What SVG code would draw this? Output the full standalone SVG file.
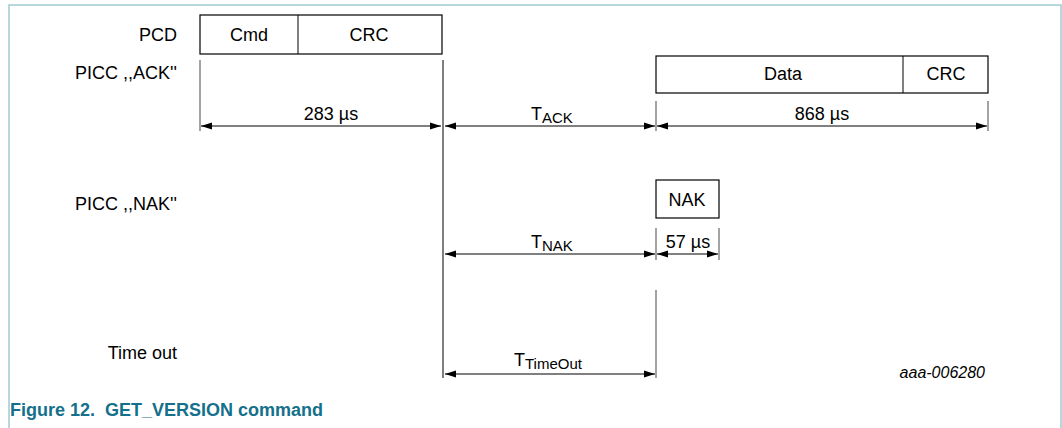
<svg xmlns="http://www.w3.org/2000/svg" width="1062" height="428" viewBox="0 0 1062 428">
<style>
text{font-family:"Liberation Sans",Arial,sans-serif;fill:#000}
.lbl{font-size:18px;text-anchor:end}
.ctr{font-size:18px;text-anchor:middle}
.t{font-size:18px}
.sub{font-size:15px}
.box{fill:#fff;stroke:#000;stroke-width:1.2}
.ln{stroke:#000;stroke-width:1;fill:none}
.gl{stroke:#666;stroke-width:1.2;fill:none}
.arr{stroke:#000;stroke-width:1;fill:none;marker-start:url(#ah);marker-end:url(#ah)}
</style>
<defs>
<marker id="ah" viewBox="0 0 11 8" refX="11" refY="4" markerWidth="11" markerHeight="8" markerUnits="userSpaceOnUse" orient="auto-start-reverse">
<path d="M0,0.5 L11,4 L0,7.5 z" fill="#000"/>
</marker>
</defs>
<rect width="1062" height="428" fill="#fff"/>
<path d="M9,428 V5 H1061 V428" fill="none" stroke="#9fcbd2" stroke-width="1.5"/>

<g id="labels">
<text class="lbl" x="177" y="41">PCD</text>
<text class="lbl" x="177" y="79">PICC ,,ACK''</text>
<text class="lbl" x="177" y="210">PICC ,,NAK''</text>
<text class="lbl" x="177" y="359">Time out</text>
</g>

<g id="pcd">
<rect class="box" x="200" y="15" width="242" height="39"/>
<line class="ln" x1="298" y1="15" x2="298" y2="54"/>
<text class="ctr" x="249" y="41">Cmd</text>
<text class="ctr" x="369" y="41">CRC</text>
</g>

<g id="ack">
<rect class="box" x="656" y="56" width="332" height="37"/>
<line class="ln" x1="903" y1="56" x2="903" y2="93"/>
<text class="ctr" x="783" y="80">Data</text>
<text class="ctr" x="946" y="80">CRC</text>
</g>

<g id="nak">
<rect class="box" x="656" y="180" width="63" height="38"/>
<text class="ctr" x="687" y="206">NAK</text>
</g>

<g id="connectors">
<line class="gl" x1="200" y1="60" x2="200" y2="131"/>
<line class="ln" x1="443" y1="60" x2="443" y2="378"/>
<line class="gl" x1="656" y1="101" x2="656" y2="131"/>
<line class="gl" x1="988" y1="101" x2="988" y2="131"/>
<line class="gl" x1="656" y1="228" x2="656" y2="260"/>
<line class="gl" x1="719" y1="228" x2="719" y2="260"/>
<line class="gl" x1="656" y1="290" x2="656" y2="378"/>

<line class="arr" x1="201" y1="126" x2="441" y2="126"/>
<line class="arr" x1="445" y1="126" x2="655" y2="126"/>
<line class="arr" x1="657" y1="126" x2="987" y2="126"/>
<line class="arr" x1="445" y1="254" x2="655" y2="254"/>
<line class="arr" x1="657" y1="254" x2="718" y2="254"/>
<line class="arr" x1="445" y1="374" x2="655" y2="374"/>
</g>

<g id="dims">
<text class="ctr" x="331" y="120">283 µs</text>
<text class="t" x="531" y="120">T<tspan class="sub" dy="3">ACK</tspan></text>
<text class="ctr" x="822" y="120">868 µs</text>
<text class="t" x="531" y="248">T<tspan class="sub" dy="3">NAK</tspan></text>
<text class="ctr" x="688" y="248">57 µs</text>
<text class="t" x="514" y="366">T<tspan class="sub" dy="3">TimeOut</tspan></text>
</g>

<text x="985" y="378" font-size="16" font-style="italic" text-anchor="end">aaa-006280</text>
<text x="10" y="416" font-size="18" font-weight="bold" style="fill:#14708b;white-space:pre">Figure 12.  GET_VERSION command</text>
</svg>
